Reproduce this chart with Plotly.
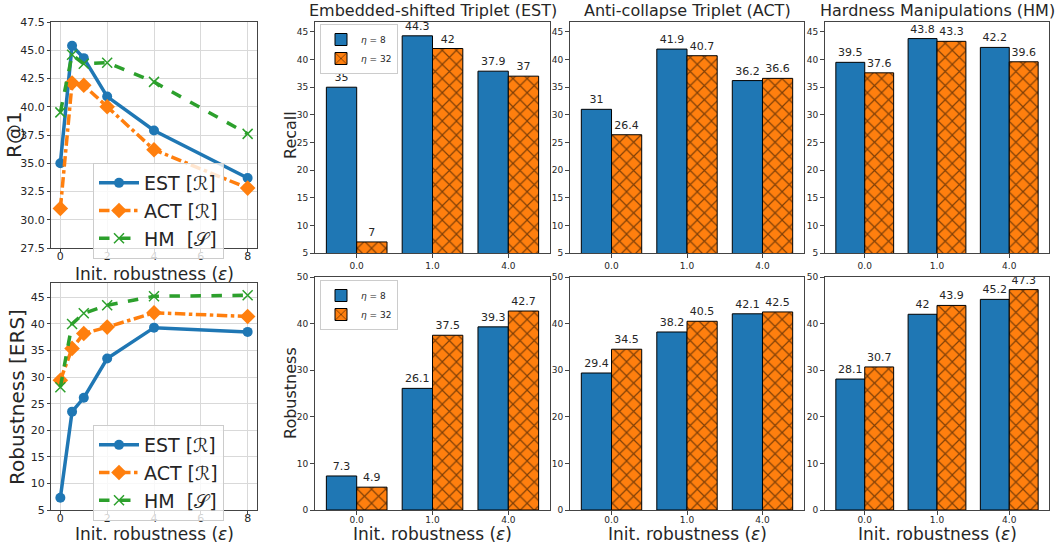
import plotly.graph_objects as go

W, H = 1055, 543

# ---------------- data ----------------
eps_line = [0, 0.5, 1, 2, 4, 8]
r1_est = [35.0, 45.4, 44.3, 40.9, 37.9, 33.7]
r1_act = [31.0, 42.1, 41.9, 40.0, 36.2, 32.8]
r1_hm = [39.5, 44.6, 43.8, 43.9, 42.2, 37.6]
rob_est = [7.3, 23.5, 26.1, 33.5, 39.3, 38.5]
rob_act = [29.4, 35.4, 38.2, 39.4, 42.1, 41.4]
rob_hm = [28.1, 40.0, 42.0, 43.5, 45.2, 45.4]

bar_cats = ["0.0", "1.0", "4.0"]
recall_est_8 = [35, 44.3, 37.9]
recall_est_32 = [7, 42, 37]
recall_act_8 = [31, 41.9, 36.2]
recall_act_32 = [26.4, 40.7, 36.6]
recall_hm_8 = [39.5, 43.8, 42.2]
recall_hm_32 = [37.6, 43.3, 39.6]
robb_est_8 = [7.3, 26.1, 39.3]
robb_est_32 = [4.9, 37.5, 42.7]
robb_act_8 = [29.4, 38.2, 42.1]
robb_act_32 = [34.5, 40.5, 42.5]
robb_hm_8 = [28.1, 42, 45.2]
robb_hm_32 = [30.7, 43.9, 47.3]

titles = ["Embedded-shifted Triplet (EST)", "Anti-collapse Triplet (ACT)", "Hardness Manipulations (HM)"]
line_names = ["EST [ℛ]", "ACT [ℛ]", "HM  [𝒮]"]
bar_names = ["<i>η</i> = 8", "<i>η</i> = 32"]
xlabel = "Init. robustness (<i>ε</i>)"

BLUE, ORANGE, GREEN = "#1f77b4", "#ff7f0e", "#2ca02c"
FONT = "DejaVu Sans"
AX = "#444444"
TXT = "#262626"


def px_x(a, b):
    return [a / W, b / W]


def px_y(top, bottom):
    return [1 - bottom / H, 1 - top / H]


def fmt(v):
    return f"{v:g}"


fig = go.Figure()

# ---------------- line panels ----------------
line_sets = [
    ("x", "y", "legend", [r1_est, r1_act, r1_hm]),
    ("x2", "y2", "legend2", [rob_est, rob_act, rob_hm]),
]
styles = [
    (BLUE, "solid", "circle", 10, 0),
    (ORANGE, "dashdot", "diamond", 12, 0),
    (GREEN, "dash", "x-thin", 10, 1.5),
]
for xa, ya, leg, series in line_sets:
    for vals, name, (col, dash, sym, msz, mlw) in zip(series, line_names, styles):
        fig.add_trace(go.Scatter(
            x=eps_line, y=vals, name=name, xaxis=xa, yaxis=ya, legend=leg,
            mode="lines+markers",
            line=dict(color=col, width=3.5, dash=dash),
            marker=dict(color=col, symbol=sym, size=msz,
                        line=dict(color=col, width=mlw)),
        ))

# ---------------- bar panels ----------------
bar_sets = [
    ("x3", "y3", recall_est_8, recall_est_32, "legend3"),
    ("x4", "y4", recall_act_8, recall_act_32, None),
    ("x5", "y5", recall_hm_8, recall_hm_32, None),
    ("x6", "y6", robb_est_8, robb_est_32, "legend4"),
    ("x7", "y7", robb_act_8, robb_act_32, None),
    ("x8", "y8", robb_hm_8, robb_hm_32, None),
]
xpos = list(range(len(bar_cats)))
for xa, ya, v8, v32, leg in bar_sets:
    common = dict(xaxis=xa, yaxis=ya, width=0.4, textposition="outside",
                  cliponaxis=False, constraintext="none",
                  textfont=dict(size=11, color=TXT, family=FONT))
    fig.add_trace(go.Bar(
        x=xpos, y=v8, name=bar_names[0], offset=-0.4,
        text=[fmt(v) for v in v8],
        marker=dict(color=BLUE, line=dict(color="black", width=1)),
        showlegend=leg is not None, legend=leg or "legend", **common))
    fig.add_trace(go.Bar(
        x=xpos, y=v32, name=bar_names[1], offset=0.0,
        text=[fmt(v) for v in v32],
        marker=dict(color=ORANGE, line=dict(color="black", width=1),
                    pattern=dict(shape="x", fgcolor="black", bgcolor=ORANGE,
                                 size=10, solidity=0.22, fillmode="overlay")),
        showlegend=leg is not None, legend=leg or "legend", **common))

# ---------------- axes ----------------
def axis_common(**kw):
    d = dict(showline=True, linecolor=AX, linewidth=1, mirror=True,
             ticks="outside", ticklen=4, tickcolor=AX, zeroline=False,
             automargin=False,
             tickfont=dict(family=FONT, color=TXT))
    d.update(kw)
    return d

layout = dict(
    width=W, height=H, margin=dict(l=0, r=0, t=0, b=0, autoexpand=False),
    paper_bgcolor="white", plot_bgcolor="white",
    font=dict(family=FONT, color=TXT),
    barmode="overlay",
)

# top-left
layout["xaxis"] = axis_common(domain=px_x(51, 257), anchor="y", range=[-0.4, 8.4],
                              tickvals=[0, 2, 4, 6, 8], showgrid=True, gridcolor="#d9d9d9",
                              ticklen=3, ticklabelstandoff=-5,
                              tickfont=dict(size=11, family=FONT, color=TXT))
layout["yaxis"] = axis_common(domain=px_y(22, 248), anchor="x", range=[27.5, 47.5],
                              dtick=2.5, tickformat=".1f", showgrid=True, gridcolor="#d9d9d9",
                              ticklen=3,
                              tickfont=dict(size=11, family=FONT, color=TXT))
# bottom-left
layout["xaxis2"] = axis_common(domain=px_x(51, 257), anchor="y2", range=[-0.4, 8.4],
                               tickvals=[0, 2, 4, 6, 8], showgrid=True, gridcolor="#d9d9d9",
                               ticklen=3, ticklabelstandoff=-5,
                               tickfont=dict(size=11, family=FONT, color=TXT))
layout["yaxis2"] = axis_common(domain=px_y(283, 510), anchor="x2", range=[5, 47.7],
                               dtick=5, showgrid=True, gridcolor="#d9d9d9",
                               ticklen=3,
                               tickfont=dict(size=11, family=FONT, color=TXT))

panels_x = [(315, 550), (570, 804), (825, 1049)]
for i, (a, b) in enumerate(panels_x):
    nt = 3 + i
    nb = 6 + i
    layout[f"xaxis{nt}"] = axis_common(domain=px_x(a, b), anchor=f"y{nt}", range=[-0.55, 2.55],
                                       tickvals=xpos, ticktext=bar_cats, showgrid=False,
                                       tickfont=dict(size=9, family=FONT, color=TXT))
    layout[f"yaxis{nt}"] = axis_common(domain=px_y(22, 253), anchor=f"x{nt}", range=[5, 46.8],
                                       dtick=5, showgrid=False,
                                       tickfont=dict(size=9, family=FONT, color=TXT))
    layout[f"xaxis{nb}"] = axis_common(domain=px_x(a, b), anchor=f"y{nb}", range=[-0.55, 2.55],
                                       tickvals=xpos, ticktext=bar_cats, showgrid=False,
                                       ticklabelstandoff=-3,
                                       tickfont=dict(size=9, family=FONT, color=TXT))
    layout[f"yaxis{nb}"] = axis_common(domain=px_y(277, 510), anchor=f"x{nb}", range=[0, 50],
                                       dtick=10, showgrid=False,
                                       tickfont=dict(size=9, family=FONT, color=TXT))

# legends
line_leg = dict(bgcolor="rgba(255,255,255,0.8)", bordercolor="#cccccc", borderwidth=1,
                font=dict(size=19, family=FONT, color=TXT), itemwidth=40,
                xanchor="left", yanchor="top", tracegroupgap=0)
layout["legend"] = dict(line_leg, x=93 / W, y=1 - 163 / H)
layout["legend2"] = dict(line_leg, x=93 / W, y=1 - 425 / H)
bar_leg = dict(bgcolor="rgba(255,255,255,0.8)", bordercolor="#cccccc", borderwidth=1,
               font=dict(size=9, family=FONT, color=TXT), itemwidth=30,
               xanchor="left", yanchor="top", tracegroupgap=0)
layout["legend3"] = dict(bar_leg, x=320 / W, y=1 - 24 / H)
layout["legend4"] = dict(bar_leg, x=320 / W, y=1 - 280 / H)

# titles and axis labels as annotations
annotations = []


def ann(text, x, y, size, angle=0):
    annotations.append(dict(text=text, x=x / W, y=1 - y / H, xref="paper", yref="paper",
                            showarrow=False, textangle=angle,
                            font=dict(size=size, family=FONT, color=TXT),
                            xanchor="center", yanchor="middle"))


for (a, b), t in zip(panels_x, titles):
    ann(t, (a + b) / 2, 11, 16)
    ann(xlabel, (a + b) / 2, 534, 17)
ann(xlabel, 154, 274, 17)
ann(xlabel, 154, 534, 17)
ann("R@1", 14, 135, 20, -90)
ann("Robustness [ERS]", 17, 397, 20, -90)
ann("Recall", 290, 135, 16, -90)
ann("Robustness", 290, 393, 16, -90)
layout["annotations"] = annotations

fig.update_layout(**layout)
fig.write_html("out.html", config={"displayModeBar": False},
               post_script="document.body.style.margin='0';document.body.style.overflow='hidden';")
